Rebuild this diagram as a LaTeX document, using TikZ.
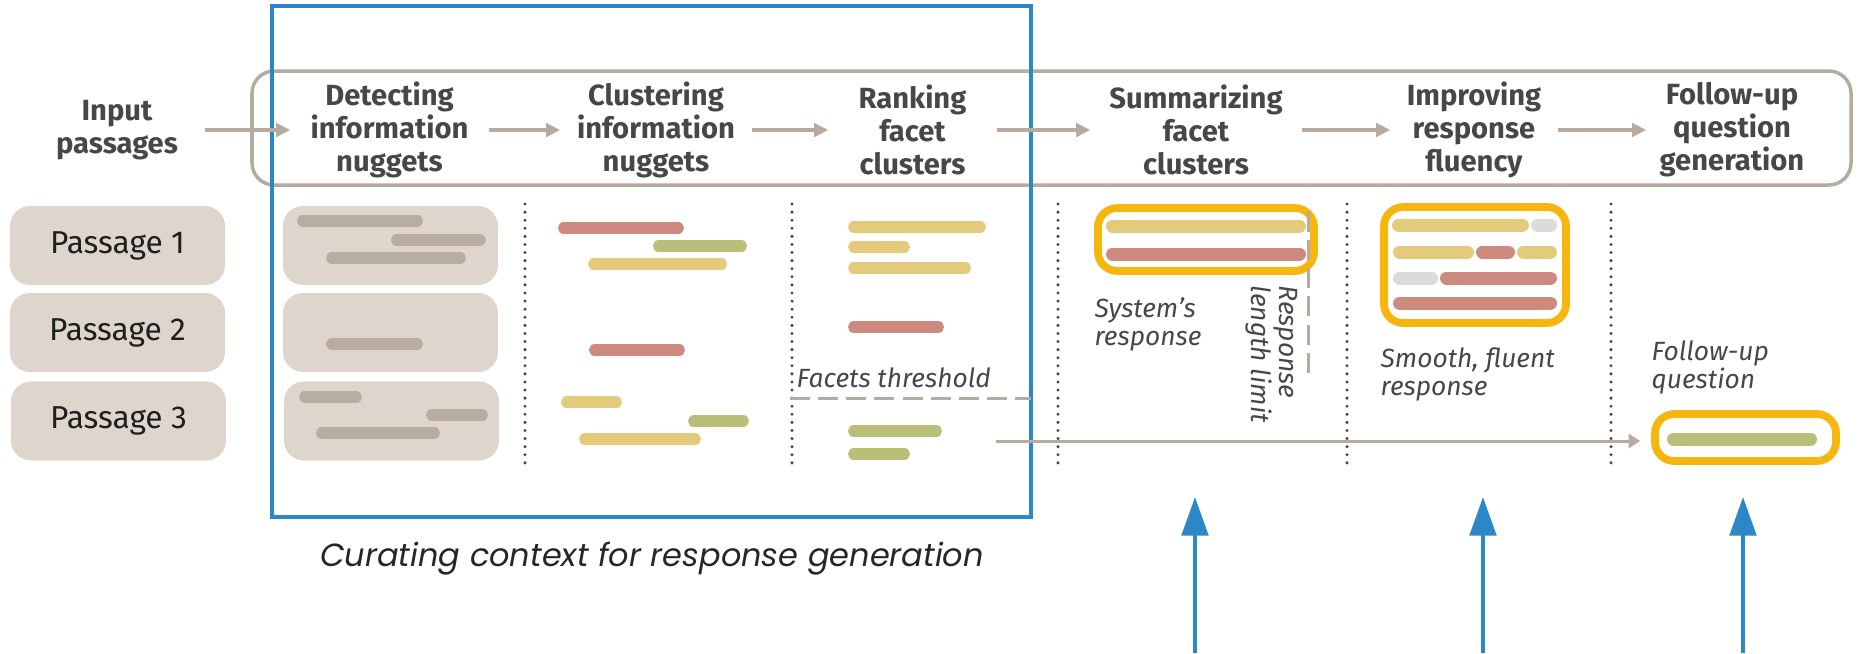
\documentclass[tikz,border=0pt]{standalone}
\usepackage{fontspec}
\setmainfont{Fira Sans}
\newfontfamily\capfont{Poppins}
\usetikzlibrary{arrows.meta}

\definecolor{flowgray}{HTML}{B7AA9E}
\definecolor{passfill}{HTML}{DED6CC}
\definecolor{nuggray}{HTML}{B9ACA1}
\definecolor{nugred}{HTML}{CE8A7F}
\definecolor{nugyel}{HTML}{E4CA7B}
\definecolor{nuggrn}{HTML}{B9BE78}
\definecolor{nuglgt}{HTML}{DCDBDA}
\definecolor{orng}{HTML}{F6B60F}
\definecolor{blu}{HTML}{2B87C6}
\definecolor{headtxt}{HTML}{474747}
\definecolor{dotcol}{HTML}{444444}

% thin nugget bar: colour, left end, right end, y  (ends are outer extents)
\newcommand\nug[4]{\draw[line width=3.2pt,line cap=round,#1] ({#2+5.6},#4) -- ({#3-5.6},#4);}
% thicker bar used inside the response boxes
\newcommand\nugw[4]{\draw[line width=3.7pt,line cap=round,#1] ({#2+6.5},#4) -- ({#3-6.5},#4);}

\begin{document}
\begin{tikzpicture}[x=0.01cm,y=-0.01cm,
  headstyle/.style={font=\bfseries\fontsize{8.3}{9.4}\selectfont,text=headtxt,
    align=center,inner sep=0pt,minimum height=1cm},
  passbox/.style={fill=passfill,rounded corners=5.7pt,inner sep=0pt,
    minimum width=2.15cm,minimum height=0.79cm,
    font=\fontsize{9}{10}\selectfont,text=black!88},
  obox/.style={draw=orng,line width=2.2pt,rounded corners=5.5pt,inner sep=0pt},
  flow/.style={draw=flowgray,line width=1.1pt,-{Triangle[length=4pt,width=3.8pt]}},
  thinflow/.style={draw=flowgray,line width=0.85pt,-{Triangle[length=3.3pt,width=4pt]}},
  dotline/.style={draw=dotcol,line width=0.95pt,line cap=round,dash pattern=on 0pt off 2.3pt},
  limitline/.style={draw=flowgray,line width=0.85pt,dash pattern=on 5.7pt off 2.3pt},
  note/.style={font=\itshape\fontsize{7.5}{8}\selectfont,text=headtxt,inner sep=0pt,align=left},
  bluarrow/.style={draw=blu,line width=1.2pt,-{Triangle[length=11pt,width=7.5pt]}}]

\useasboundingbox (0,0) rectangle (1860,653);

% pipeline frame
\draw[flowgray,line width=1pt,rounded corners=6.3pt] (252,71) rectangle (1851,185);

% stage headings
\node[headstyle,minimum width=1.74cm] (inp) at (117,130) {Input\\passages};
\node[headstyle,minimum width=1.97cm] (det) at (389.5,130) {Detecting\\information\\nuggets};
\node[headstyle,minimum width=1.90cm] (clu) at (656,130) {Clustering\\information\\nuggets};
\node[headstyle,minimum width=1.67cm] (rank) at (912.5,130) {Ranking\\facet\\clusters};
\node[headstyle,minimum width=2.10cm] (summ) at (1196,130) {Summarizing\\facet\\clusters};
\node[headstyle,minimum width=1.66cm] (impr) at (1474,130) {Improving\\response\\fluency};
\node[headstyle,minimum width=1.70cm] (fol) at (1732,130) {Follow-up\\question\\generation};

% curation frame
\draw[blu,line width=1.1pt] (272,6) rectangle (1031,517);

\draw[flow] (inp) -- (det);
\draw[flow] (det) -- (clu);
\draw[flow] (clu) -- (rank);
\draw[flow] (rank) -- (summ);
\draw[flow] (summ) -- (impr);
\draw[flow] (impr) -- (fol);

% passages
\node[passbox] (p1) at (117.5,245.5) {Passage 1};
\node[passbox] (p2) at (117.5,332.5) {Passage 2};
\node[passbox] (p3) at (118.5,421) {Passage 3};

% passages with detected nuggets
\node[passbox] (d1) at (390.5,245.5) {};
\node[passbox] (d2) at (390.5,332.5) {};
\node[passbox] (d3) at (391.5,421) {};
\nug{nuggray}{297}{423}{221}
\nug{nuggray}{391}{486}{240}
\nug{nuggray}{326}{466}{258}
\nug{nuggray}{326}{423}{344}
\nug{nuggray}{299}{362}{397}
\nug{nuggray}{426}{488}{415}
\nug{nuggray}{316}{440}{433}

% column separators
\foreach \x in {525,792,1058,1347,1611}
  \draw[dotline] (\x,204) -- (\x,467);

% clustered nuggets
\nug{nugred}{558}{684}{228}
\nug{nuggrn}{653}{747}{246}
\nug{nugyel}{588}{727}{264}
\nug{nugred}{589}{685}{350}
\nug{nugyel}{561}{622}{402}
\nug{nuggrn}{688}{749}{421}
\nug{nugyel}{579}{701}{439}

% ranked facet clusters
\nug{nugyel}{848}{986}{227}
\nug{nugyel}{848}{910}{247}
\nug{nugyel}{848}{971}{268}
\nug{nugred}{848}{944}{327}
\nug{nuggrn}{848}{942}{431}
\nug{nuggrn}{848}{910}{454}
\node[note,anchor=base west] (thr) at (796,387) {Facets threshold};
\draw[limitline] (790,398) -- (1031,398);

% summarized response
\node[obox,minimum width=2.16cm,minimum height=0.63cm] (sumbox) at (1206,239.5) {};
\nugw{nugyel}{1106}{1306}{226}
\nugw{nugred}{1106}{1306}{254}
\draw[limitline] (1308,212) -- (1308,380);
\node[note,anchor=north west] (sysresp) at (1094,297) {System’s\\response};
\node[note,rotate=-90,anchor=north west] (lenlim) at (1298,285) {Response\\length limit};

% fluent response
\node[obox,minimum width=1.82cm,minimum height=1.16cm] (imprbox) at (1475,265) {};
\nugw{nugyel}{1392}{1529}{225}
\nugw{nuglgt}{1531}{1557}{225}
\nugw{nugyel}{1393}{1474}{252}
\nugw{nugred}{1476}{1515}{252}
\nugw{nugyel}{1517}{1557}{252}
\nugw{nuglgt}{1393}{1438}{278}
\nugw{nugred}{1440}{1557}{278}
\nugw{nugred}{1393}{1557}{303}
\node[note,anchor=north west] (fluent) at (1380,347) {Smooth, fluent\\response};

% follow-up question
\node[note,anchor=north west] (fqtext) at (1651,340) {Follow-up\\question};
\node[obox,minimum width=1.81cm,minimum height=0.47cm] (fqbox) at (1745.5,437.5) {};
\nugw{nuggrn}{1667}{1817}{439}
\coordinate (lstart) at (996,441);
\draw[thinflow,shorten >=3.1pt] (lstart) -- (fqbox.west |- lstart);

% caption
\node[font=\capfont\itshape\fontsize{9.1}{10}\selectfont,text=black!85,anchor=base,inner sep=0pt]
  (cap) at (652,566) {Curating context for response generation};

% pointers from below
\foreach \x/\n in {1195/a,1483/b,1743/c}{
  \coordinate (low\n) at (\x,653);
  \coordinate (tip\n) at (\x,497);
  \draw[bluarrow] (low\n) -- (tip\n);
}
\end{tikzpicture}
\end{document}
